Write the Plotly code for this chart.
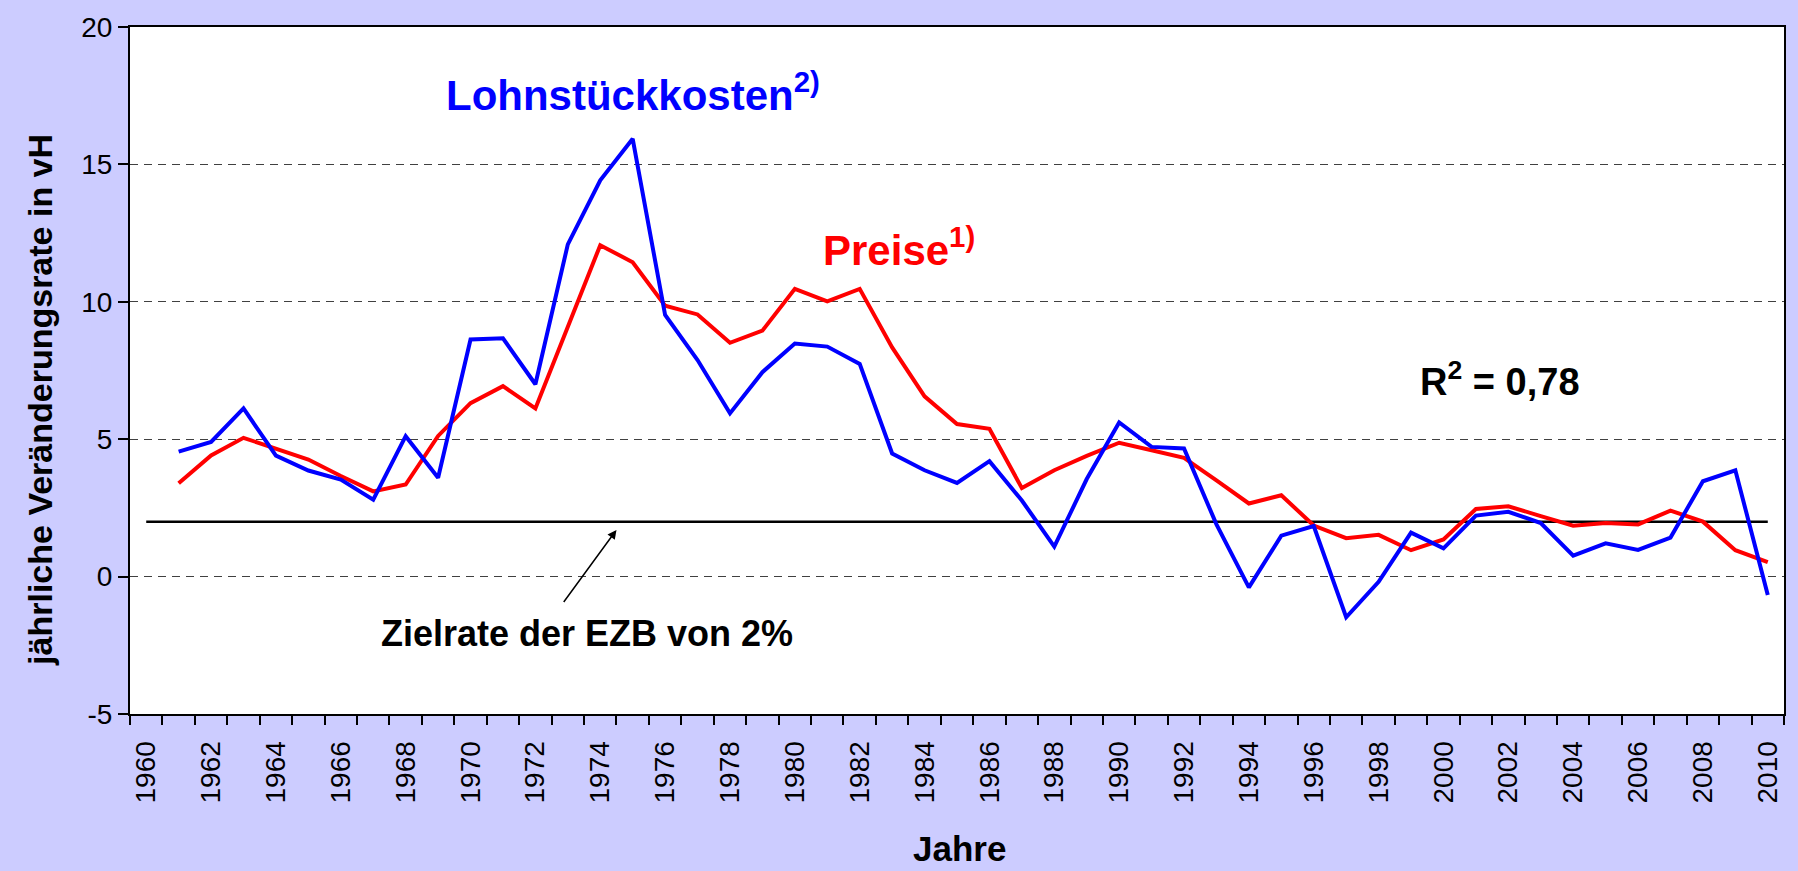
import plotly.graph_objects as go

years = list(range(1961, 2011))
lohnstueckkosten = [4.55, 4.90, 6.12, 4.40, 3.86, 3.53, 2.80, 5.11, 3.60, 8.63,
                    8.67, 7.00, 12.09, 14.42, 15.93, 9.52, 7.88, 5.94, 7.44, 8.48,
                    8.37, 7.74, 4.48, 3.87, 3.41, 4.20, 2.77, 1.09, 3.55, 5.61,
                    4.72, 4.66, 1.90, -0.39, 1.49, 1.84, -1.48, -0.19, 1.60, 1.03,
                    2.22, 2.36, 1.95, 0.76, 1.21, 0.97, 1.42, 3.47, 3.87, -0.67]
preise = [3.40, 4.41, 5.05, 4.66, 4.26, 3.66, 3.10, 3.35, 5.12, 6.31,
          6.93, 6.12, 9.10, 12.06, 11.44, 9.86, 9.54, 8.51, 8.95, 10.47,
          10.02, 10.47, 8.34, 6.56, 5.55, 5.38, 3.22, 3.87, 4.39, 4.87,
          4.60, 4.32, 3.50, 2.66, 2.96, 1.86, 1.40, 1.52, 0.96, 1.35,
          2.46, 2.56, 2.20, 1.85, 1.95, 1.90, 2.40, 2.00, 0.96, 0.53]
ziel_years = list(range(1960, 2011))
ziel = [2.0] * len(ziel_years)
tick_years = list(range(1960, 2011, 2))
tick_labels = [str(y) for y in tick_years]
y_ticks = [-5, 0, 5, 10, 15, 20]
y_labels = ["-5", "0", "5", "10", "15", "20"]

FONT = "Liberation Sans, Arial, sans-serif"

fig = go.Figure()
fig.add_trace(go.Scatter(x=ziel_years, y=ziel, mode="lines",
                         line=dict(color="black", width=2.5), showlegend=False))
fig.add_trace(go.Scatter(x=years, y=preise, mode="lines",
                         line=dict(color="#FF0000", width=4), showlegend=False))
fig.add_trace(go.Scatter(x=years, y=lohnstueckkosten, mode="lines",
                         line=dict(color="#0000FF", width=4), showlegend=False))

fig.update_layout(
    width=1798, height=871,
    paper_bgcolor="#CCCCFF", plot_bgcolor="white",
    margin=dict(l=130, r=13, t=23, b=157),
    font=dict(family=FONT, color="black"),
    xaxis=dict(range=[1959.5, 2010.5], tickmode="array", tickvals=tick_years,
               ticktext=tick_labels, tickangle=-90, ticks="", showgrid=False,
               tickfont=dict(size=28), ticklabelstandoff=14,
               showline=True, linecolor="black", linewidth=2, mirror=True,
               zeroline=False,
               minor=dict(tick0=1959.5, dtick=1, ticks="outside", ticklen=9,
                          tickcolor="black", tickwidth=1.5, showgrid=False)),
    yaxis=dict(range=[-5, 20], tickmode="array", tickvals=y_ticks,
               ticktext=y_labels, ticks="outside", ticklen=10,
               tickcolor="black", tickwidth=1.5, tickfont=dict(size=28),
               showgrid=True, gridcolor="#404040", gridwidth=1,
               griddash="8px,6px", zeroline=False,
               showline=True, linecolor="black", linewidth=2, mirror=True),
    annotations=[
        dict(x=1975.0, y=17.64, xref="x", yref="y", showarrow=False,
             text="Lohnstückkosten<sup>2)</sup>",
             font=dict(size=42, color="#0000FF", family=FONT, weight="bold")),
        dict(x=1983.2, y=12.0, xref="x", yref="y", showarrow=False,
             text="Preise<sup>1)</sup>",
             font=dict(size=42, color="#FF0000", family=FONT, weight="bold")),
        dict(x=2001.75, y=7.19, xref="x", yref="y", showarrow=False,
             text="R<sup>2</sup> = 0,78",
             font=dict(size=38, color="black", family=FONT, weight="bold")),
        dict(x=1973.6, y=-2.06, xref="x", yref="y", showarrow=False,
             text="Zielrate der EZB von 2%",
             font=dict(size=36, color="black", family=FONT, weight="bold")),
        dict(x=1974.5, y=1.7, xref="x", yref="y", ax=1972.84, ay=-0.98,
             axref="x", ayref="y", showarrow=True, arrowhead=2, arrowsize=1.2,
             arrowwidth=1.5, arrowcolor="black", text=""),
        dict(x=(960 / 1798), y=(871 - 849) / 871, xref="paper", yref="paper",
             xanchor="center", yanchor="middle", showarrow=False, text="Jahre",
             font=dict(size=35, color="black", family=FONT, weight="bold")),
        dict(x=40 / 1798, y=(871 - 398) / 871, xref="paper", yref="paper",
             xanchor="center", yanchor="middle", showarrow=False, textangle=-90,
             text="jährliche Veränderungsrate in vH",
             font=dict(size=34, color="black", family=FONT, weight="bold")),
    ],
)
# paper-coordinate annotations are relative to plot area; convert
ann = list(fig.layout.annotations)
pl, pr, pt, pb = 130, 1798 - 13, 23, 871 - 157
for a in ann:
    if a.xref == "paper":
        px = a.x * 1798
        py = (1 - a.y) * 871
        a.x = (px - pl) / (pr - pl)
        a.y = (pb - py) / (pb - pt)
fig.layout.annotations = ann

fig.write_html("out.html", config={"displayModeBar": False},
               post_script="document.body.style.margin='0';document.body.style.overflow='hidden';")
